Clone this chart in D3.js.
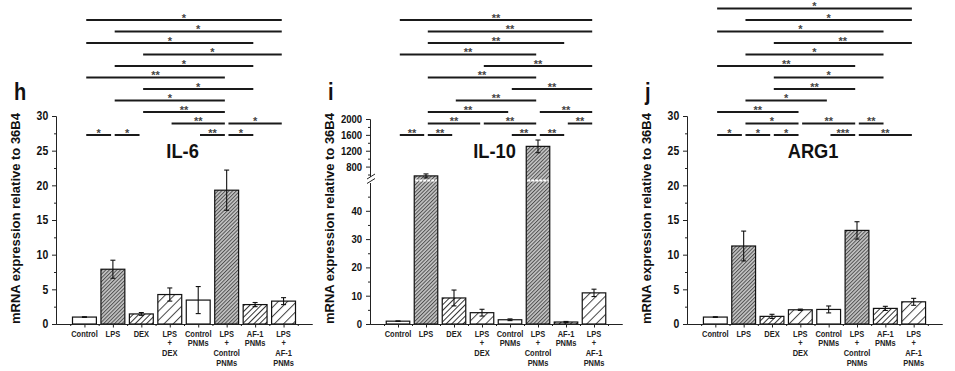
<!DOCTYPE html>
<html>
<head>
<meta charset="utf-8">
<script src="https://cdn.jsdelivr.net/npm/d3@7"></script>
<style>
  body { margin: 0; background: #fff; }
  svg { display: block; font-family: "Liberation Sans", Arial, sans-serif; font-weight: bold; }
</style>
</head>
<body>
<script>
"use strict"

// groups (each label is stacked on several lines)
const groups = [["Control"], ["LPS"], ["DEX"], ["LPS", "+", "DEX"], ["Control", "PNMs"],
                ["LPS", "+", "Control", "PNMs"], ["AF-1", "PNMs"], ["LPS", "+", "AF-1", "PNMs"]];

// mean and error per group
const il6Mean  = [1.0, 7.9, 1.45, 4.25, 3.45, 19.3, 2.8, 3.3];
const il6Err   = [0.05, 1.3, 0.2, 0.95, 1.95, 2.9, 0.3, 0.5];
const il10Mean = [1.0, 565, 9.2, 4.0, 1.5, 1310, 0.7, 11.0];
const il10Err  = [0.1, 50, 2.8, 1.2, 0.3, 160, 0.2, 1.3];
const arg1Mean = [1.0, 11.25, 1.1, 2.05, 2.1, 13.5, 2.25, 3.2];
const arg1Err  = [0.05, 2.15, 0.3, 0.1, 0.5, 1.25, 0.3, 0.5];

// significance brackets: [from group, to group, row from bottom, label]
const il6Sig = [[1, 8, 10, "*"], [2, 8, 9, "*"], [1, 7, 8, "*"], [3, 8, 7, "*"], [2, 7, 6, "*"],
                [1, 6, 5, "**"], [3, 7, 4, "*"], [2, 6, 3, "*"], [3, 6, 2, "**"],
                [4, 6, 1, "**"], [6, 8, 1, "*"],
                [1, 2, 0, "*"], [2, 3, 0, "*"], [5, 6, 0, "**"], [6, 7, 0, "*"]];
const il10Sig = [[1, 8, 10, "**"], [2, 8, 9, "**"], [2, 7, 8, "**"], [1, 6, 7, "**"], [4, 8, 6, "**"],
                 [2, 6, 5, "**"], [5, 8, 4, "**"], [3, 6, 3, "**"],
                 [2, 5, 2, "**"], [6, 8, 2, "**"],
                 [2, 4, 1, "**"], [4, 6, 1, "**"], [7, 8, 1, "**"],
                 [1, 2, 0, "**"], [2, 3, 0, "**"], [5, 6, 0, "**"], [6, 7, 0, "**"]];
const arg1Sig = [[1, 8, 11, "*"], [2, 8, 10, "*"], [1, 7, 9, "*"], [3, 8, 8, "**"], [2, 7, 7, "*"],
                 [1, 6, 6, "**"], [3, 7, 5, "*"], [3, 6, 4, "**"], [2, 5, 3, "*"], [1, 4, 2, "**"],
                 [2, 4, 1, "*"], [4, 6, 1, "**"], [6, 7, 1, "**"],
                 [1, 2, 0, "*"], [2, 3, 0, "*"], [3, 4, 0, "*"], [5, 6, 0, "***"], [6, 8, 0, "**"]];

// axis ticks
const linTicks = [0, 5, 10, 15, 20, 25, 30];
const linMinor = [2.5, 7.5, 12.5, 17.5, 22.5, 27.5];
const lowTicks = [0, 10, 20, 30, 40];
const lowMinor = [5, 15, 25, 35, 45];
const highTicks = [800, 1200, 1600, 2000];
const highMinor = [600, 1000, 1400, 1800];

// fill for each group
const barFill = ["#fff", "url(#dense)", "url(#medium)", "url(#wide)",
                 "#fff", "url(#dense)", "url(#medium)", "url(#wide)"];

// the source figure is squeezed a little horizontally
const squeeze = "scale(0.87,1)";

const svg = d3.select("body").append("svg").attr("width", 955).attr("height", 371);
const defs = svg.append("defs");
[{id: "dense", gap: 2.6, bg: "#c6c6c6", ink: "#505050"},
 {id: "medium", gap: 4, bg: "#fff", ink: "#333"},
 {id: "wide", gap: 6.5, bg: "#fff", ink: "#444"}].forEach(function(h) {
  const pat = defs.append("pattern").attr("id", h.id)
    .attr("patternUnits", "userSpaceOnUse")
    .attr("width", h.gap).attr("height", h.gap)
    .attr("patternTransform", "rotate(45)");
  pat.append("rect").attr("width", h.gap).attr("height", h.gap).attr("fill", h.bg);
  pat.append("line").attr("x1", 0).attr("y1", 0).attr("x2", 0).attr("y2", h.gap)
    .attr("stroke", h.ink).attr("stroke-width", 2);
});

const plotBottom = 324, plotTop = 116;
const rowY = d3.scaleLinear().domain([0, 1]).range([135, 123.5]);

// broken scale for IL-10
const il10Low = d3.scaleLinear().domain([0, 50]).range([plotBottom, 182.5]);
const il10High = d3.scaleLinear().domain([550, 2000]).range([176.5, 119]);
function il10Y(v) { return v <= 50 ? il10Low(v) : il10High(v); }

const panels = [
  {letter: "h", title: "IL-6", mean: il6Mean, err: il6Err, sig: il6Sig, left: 56, right: 312,
   y: d3.scaleLinear().domain([0, 30]).range([plotBottom, plotTop]), tickFont: 12},
  {letter: "i", title: "IL-10", mean: il10Mean, err: il10Err, sig: il10Sig, left: 370, right: 622,
   y: il10Y, broken: true, tickFont: 11},
  {letter: "j", title: "ARG1", mean: arg1Mean, err: arg1Err, sig: arg1Sig, left: 687, right: 942,
   y: d3.scaleLinear().domain([0, 30]).range([plotBottom, plotTop]), tickFont: 12}
];

function styleAxis(sel, size) {
  sel.select(".domain").attr("stroke", "#222");
  sel.selectAll(".tick line").attr("stroke", "#222");
  sel.selectAll("text").attr("fill", "#111").attr("transform", squeeze)
    .style("font-family", "'Liberation Sans', Arial, sans-serif")
    .style("font-weight", "bold").style("font-size", size + "px");
}

function yAxis(g, scale, ticks, minor, size) {
  g.append("g").call(d3.axisLeft(scale).tickValues(minor).tickSize(2).tickSizeOuter(0).tickFormat(""))
    .call(styleAxis, size);
  g.append("g").call(d3.axisLeft(scale).tickValues(ticks).tickSize(4).tickSizeOuter(0).tickPadding(5)
      .tickFormat(d3.format("d")))
    .call(styleAxis, size);
}

panels.forEach(function(p) {
  const g = svg.append("g");
  const x = d3.scaleLinear().domain([0, groups.length + 1]).range([p.left, p.right]);
  const bw = (x(1) - x(0)) * 0.84;
  const y = p.y;

  // bars
  g.selectAll(".bar").data(p.mean).enter().append("rect")
    .attr("x", (d, i) => x(i + 1) - bw / 2)
    .attr("y", d => y(d))
    .attr("width", bw)
    .attr("height", d => plotBottom - y(d))
    .attr("fill", (d, i) => barFill[i])
    .attr("stroke", "#111").attr("stroke-width", 1.2);

  // white gap across bars that cross the break
  if (p.broken) {
    g.selectAll(".gap").data(p.mean.filter(d => d > 50).map(d => p.mean.indexOf(d))).enter().append("line")
      .attr("x1", i => x(i + 1) - bw / 2 + 1).attr("x2", i => x(i + 1) + bw / 2 - 1)
      .attr("y1", 180.5).attr("y2", 180.5)
      .attr("stroke", "#fff").attr("stroke-width", 2.2).attr("stroke-dasharray", "3,1");
  }

  // error bars
  const eb = g.selectAll(".err").data(p.mean).enter().append("g");
  eb.append("line")
    .attr("x1", (d, i) => x(i + 1)).attr("x2", (d, i) => x(i + 1))
    .attr("y1", (d, i) => y(d - p.err[i])).attr("y2", (d, i) => y(d + p.err[i]))
    .attr("stroke", "#111").attr("stroke-width", 1.1);
  [-1, 1].forEach(function(s) {
    eb.append("line")
      .attr("x1", (d, i) => x(i + 1) - 2.5).attr("x2", (d, i) => x(i + 1) + 2.5)
      .attr("y1", (d, i) => y(d + s * p.err[i])).attr("y2", (d, i) => y(d + s * p.err[i]))
      .attr("stroke", "#111").attr("stroke-width", 1.1);
  });

  // x axis
  const xg = g.append("g").attr("transform", "translate(0," + plotBottom + ")");
  xg.append("g").call(d3.axisBottom(x).tickValues(d3.range(0.5, 9, 1)).tickSize(2).tickSizeOuter(0).tickFormat(""))
    .call(styleAxis, 8);
  xg.append("g").call(d3.axisBottom(x).tickValues(d3.range(1, 9)).tickSize(3.5).tickSizeOuter(0).tickFormat(""))
    .call(styleAxis, 8);

  // group labels
  const lab = g.selectAll(".grp").data(groups).enter().append("text")
    .attr("text-anchor", "middle").attr("font-size", 8.6).attr("fill", "#222")
    .attr("transform", (d, i) => "translate(" + x(i + 1) + "," + 336.5 + ") " + squeeze);
  lab.selectAll("tspan").data(d => d).enter().append("tspan")
    .attr("x", 0).attr("dy", (d, k) => k ? 10 : 0).text(d => d);

  // y axis
  const yg = g.append("g").attr("transform", "translate(" + p.left + ",0)");
  if (p.broken) {
    yAxis(yg, il10Low, lowTicks, lowMinor, p.tickFont);
    yAxis(yg, il10High, highTicks, highMinor, p.tickFont);
    // break marks
    [176.5, 181].forEach(function(by) {
      yg.append("line").attr("x1", -3).attr("x2", 5)
        .attr("y1", by + 2.5).attr("y2", by - 2.5)
        .attr("stroke", "#222").attr("stroke-width", 1);
    });
  } else {
    yAxis(yg, y, linTicks, linMinor, p.tickFont);
  }

  // axis title
  g.append("text").attr("text-anchor", "middle").attr("font-size", 13).attr("fill", "#111")
    .attr("transform", "translate(" + (p.left - 36) + ",218.5) rotate(-90) scale(1,0.95)")
    .text("mRNA expression relative to 36B4");

  // chart title and panel letter
  g.append("text").attr("text-anchor", "middle").attr("font-size", 21).attr("fill", "#111")
    .attr("transform", "translate(" + x(4.45) + ",158) " + squeeze).text(p.title);
  g.append("text").attr("font-size", 23).attr("fill", "#111")
    .attr("transform", "translate(" + (p.left - 42) + ",100) " + squeeze).text(p.letter);

  // significance brackets
  const br = g.selectAll(".sig").data(p.sig).enter().append("g");
  br.append("line")
    .attr("x1", d => x(d[0]) + 1.8).attr("x2", d => x(d[1]) - 1.8)
    .attr("y1", d => rowY(d[2])).attr("y2", d => rowY(d[2]))
    .attr("stroke", "#1a1a1a").attr("stroke-width", 2);
  br.append("text").attr("text-anchor", "middle").attr("font-size", 11).attr("fill", "#444")
    .attr("x", d => (x(d[0]) + x(d[1])) / 2).attr("y", d => rowY(d[2]) + 1.5)
    .text(d => d[3]);
});
</script>
</body>
</html>
